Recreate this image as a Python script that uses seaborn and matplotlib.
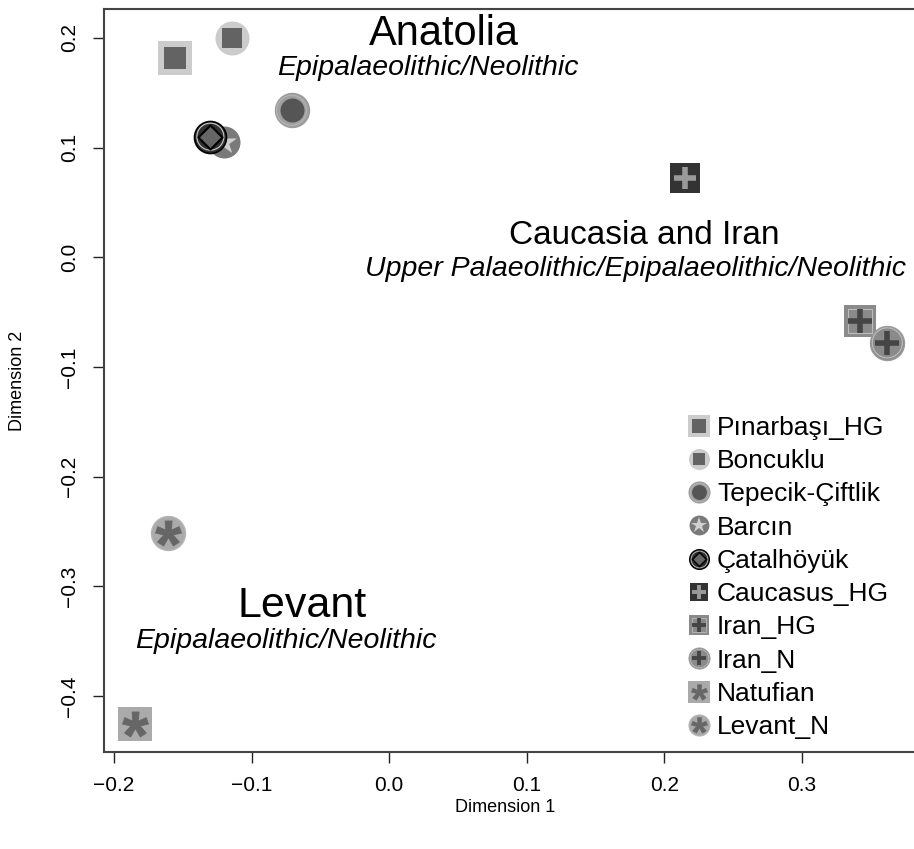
import matplotlib
matplotlib.use("Agg")
import matplotlib.pyplot as plt
import seaborn as sns
import pandas as pd
from matplotlib.lines import Line2D
from matplotlib.legend_handler import HandlerTuple

# ---------------- data ----------------
groups = ["Pınarbaşı_HG", "Boncuklu", "Tepecik-Çiftlik", "Barcın", "Çatalhöyük",
          "Caucasus_HG", "Iran_HG", "Iran_N", "Natufian", "Levant_N"]
dim1 = [-0.156, -0.114, -0.071, -0.120, -0.130, 0.215, 0.342, 0.362, -0.185, -0.161]
dim2 = [0.182, 0.200, 0.134, 0.105, 0.110, 0.072, -0.058, -0.078, -0.426, -0.251]

region_titles = ["Anatolia", "Caucasia and Iran", "Levant"]
region_subtitles = ["Epipalaeolithic/Neolithic",
                    "Upper Palaeolithic/Epipalaeolithic/Neolithic",
                    "Epipalaeolithic/Neolithic"]
title_x = [0.040, 0.185, -0.063]
title_y = [0.204, 0.020, -0.318]
sub_x = [0.028, 0.179, -0.075]
sub_y = [0.173, -0.011, -0.350]

xticks = [-0.2, -0.1, 0.0, 0.1, 0.2, 0.3]
yticks = [-0.4, -0.3, -0.2, -0.1, 0.0, 0.1, 0.2]

df = pd.DataFrame({"group": groups, "dim1": dim1, "dim2": dim2})

sns.set_style("ticks")
plt.rcParams["font.family"] = ["Liberation Sans", "DejaVu Sans"]
plt.rcParams["mathtext.fontset"] = "custom"
plt.rcParams["mathtext.rm"] = "Liberation Sans"
plt.rcParams["mathtext.bf"] = "Liberation Sans:bold"
plt.rcParams["text.color"] = "black"
plt.rcParams["axes.labelcolor"] = "black"
plt.rcParams["xtick.color"] = "black"
plt.rcParams["ytick.color"] = "black"

# ---------------- marker layers (marker, size px, face, edge, lw) ----------------
PX = 0.72  # points per pixel at dpi 100
AST = r"$\mathbf{*}$"
LINE_MARKERS = ("+",)
layers = {
    "Pınarbaşı_HG": [("s", 34, "#cccccc", "#cccccc", 0), ("s", 22, "#636363", "#636363", 0)],
    "Boncuklu": [("o", 34, "#cccccc", "#cccccc", 0), ("s", 20, "#636363", "#636363", 0)],
    "Tepecik-Çiftlik": [("o", 34, "#a0a0a0", "#9a9a9a", 1), ("o", 30, "none", "#b5b5b5", 0.8),
                        ("o", 24, "#555555", "#555555", 0)],
    "Barcın": [("o", 32, "#7a7a7a", "#7a7a7a", 0), ("*", 26, "#d0d0d0", "#d0d0d0", 0)],
    "Çatalhöyük": [("o", 32, "#303030", "#000000", 1.2), ("o", 27, "none", "#c8c8c8", 0.8),
                   ("D", 17, "#666666", "#000000", 1.5)],
    "Caucasus_HG": [("s", 30, "#333333", "#333333", 0), ("+", 22, "#9a9a9a", "#9a9a9a", 4)],
    "Iran_HG": [("s", 32, "#8a8a8a", "#8a8a8a", 0), ("s", 24, "none", "#bdbdbd", 0.8),
                ("+", 24, "#454545", "#454545", 4)],
    "Iran_N": [("o", 34, "#8a8a8a", "#9a9a9a", 1), ("o", 30, "none", "#bdbdbd", 0.8),
               ("+", 24, "#454545", "#454545", 4)],
    "Natufian": [("s", 34, "#aaaaaa", "#aaaaaa", 0), (AST, 26, "#666666", "#666666", 0.5)],
    "Levant_N": [("o", 34, "#aaaaaa", "#b5b5b5", 1), (AST, 26, "#666666", "#666666", 0.5)],
}

fig = plt.figure(figsize=(9.14, 8.49), dpi=100)
W, H = 914, 849
ax = fig.add_axes([104 / W, (H - 752) / H, (914 - 104) / W, (752 - 9) / H])

for _, row in df.iterrows():
    for (m, spx, fc, ec, lw) in layers[row["group"]]:
        ms = spx * PX
        if m in LINE_MARKERS:
            sns.scatterplot(x=[row["dim1"]], y=[row["dim2"]], marker=m, s=ms ** 2,
                            color=fc, linewidth=lw, ax=ax, legend=False, zorder=3)
        else:
            sns.scatterplot(x=[row["dim1"]], y=[row["dim2"]], marker=m, s=ms ** 2,
                            facecolor=fc, edgecolor=ec, linewidth=lw, ax=ax,
                            legend=False, zorder=3)

ax.set_xlim(-0.2073, 0.3814)
ax.set_ylim(-0.4511, 0.2264)
ax.set_xticks(xticks)
ax.set_yticks(yticks)
ax.set_xticklabels([f"{t:.1f}".replace("-", "\u2212") for t in xticks])
ax.set_yticklabels([f"{t:.1f}".replace("-", "\u2212") for t in yticks],
                   rotation=90, va="center")
ax.tick_params(axis="both", length=8, width=1.0, color="#222222", labelsize=15,
               labelcolor="black", direction="out")
ax.tick_params(axis="x", pad=9)
ax.tick_params(axis="y", pad=10)
for side in ["left", "bottom", "top"]:
    ax.spines[side].set_visible(True)
    ax.spines[side].set_color("#444444")
    ax.spines[side].set_linewidth(1.5)
ax.spines["right"].set_visible(False)

ax.set_xlabel("Dimension 1", fontsize=13)
ax.set_ylabel("Dimension 2", fontsize=13)
ax.xaxis.set_label_coords((505 - 104) / (914 - 104), -(808 - 752) / (752 - 9))
ax.yaxis.set_label_coords(-(104 - 18) / (914 - 104), 0.5)
ax.xaxis.label.set_va("center")
ax.yaxis.label.set_va("center")

title_sizes = [30, 24, 31]
for t, x, y, fs in zip(region_titles, title_x, title_y, title_sizes):
    ax.text(x, y, t, fontsize=fs, ha="center", va="center", color="black")
for t, x, y in zip(region_subtitles, sub_x, sub_y):
    ax.text(x, y, t, fontsize=20.5, ha="center", va="center", style="italic",
            color="black")

# legend
SC = 0.62
handles = []
for g in groups:
    parts = []
    for (m, spx, fc, ec, lw) in layers[g]:
        ms = spx * PX * SC
        if m in LINE_MARKERS:
            parts.append(Line2D([], [], linestyle="none", marker=m, markersize=ms,
                                color=fc, markeredgewidth=lw * 0.7))
        else:
            parts.append(Line2D([], [], linestyle="none", marker=m, markersize=ms,
                                markerfacecolor=fc, markeredgecolor=ec,
                                markeredgewidth=lw * 0.7))
    handles.append(tuple(parts))

leg = ax.legend(handles, groups, handler_map={tuple: HandlerTuple(ndivide=1, pad=0)},
                loc="upper left",
                bbox_to_anchor=((688 - 104) / (914 - 104), (752 - 416) / (752 - 9)),
                frameon=False, fontsize=19, handlelength=0.8, handletextpad=0.3,
                labelspacing=0.35, borderaxespad=0, borderpad=0)

fig.savefig("out.png", dpi=100)
